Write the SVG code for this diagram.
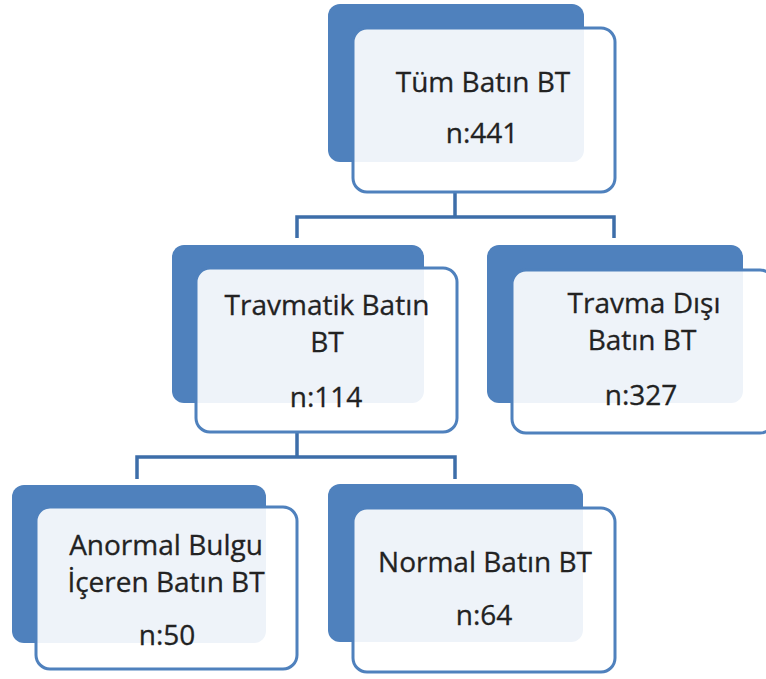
<svg xmlns="http://www.w3.org/2000/svg" width="766" height="679" viewBox="0 0 766 679">
<style>
.back{fill:#4f81bd;}
.front{fill:#ffffff;fill-opacity:0.9;stroke:#4f81bd;stroke-width:3;}
.conn{fill:none;stroke:#3d6ea9;stroke-width:3.5;}
text{font-family:"Open Sans","Liberation Sans",sans-serif;font-size:28px;fill:#222222;stroke:#222222;stroke-width:0.3;text-anchor:middle;}
</style>
<rect width="766" height="679" fill="#ffffff"/>
<g id="connectors">
<path class="conn" d="M455,193 V217 M297,238 V217 H614 V238"/>
<path class="conn" d="M297,433 V457 M137,479 V457 H455 V479"/>
</g>
<g id="node-tum">
<rect class="back" x="328" y="4" width="256" height="158" rx="12"/>
<rect class="front" x="353" y="28" width="262" height="164" rx="14"/>
<text x="483" y="92">Tüm Batın BT</text>
<text x="482" y="143">n:441</text>
</g>
<g id="node-travmatik">
<rect class="back" x="172" y="245" width="252" height="158" rx="12"/>
<rect class="front" x="196" y="268" width="261" height="164" rx="14"/>
<text x="327" y="315">Travmatik Batın</text>
<text x="327" y="352">BT</text>
<text x="326" y="407">n:114</text>
</g>
<g id="node-travma-disi">
<rect class="back" x="487" y="245" width="256" height="158" rx="12"/>
<rect class="front" x="512" y="270" width="262" height="163" rx="14"/>
<text x="644" y="313">Travma Dışı</text>
<text x="642" y="350">Batın BT</text>
<text x="641" y="405">n:327</text>
</g>
<g id="node-anormal">
<rect class="back" x="12" y="485" width="254" height="158" rx="12"/>
<rect class="front" x="36" y="507" width="261" height="162" rx="14"/>
<text x="166" y="555">Anormal Bulgu</text>
<text x="166" y="592">İçeren Batın BT</text>
<text x="167" y="645">n:50</text>
</g>
<g id="node-normal">
<rect class="back" x="328" y="484" width="255" height="158" rx="12"/>
<rect class="front" x="353" y="508" width="262" height="164" rx="14"/>
<text x="485" y="572">Normal Batın BT</text>
<text x="484" y="625">n:64</text>
</g>
</svg>
